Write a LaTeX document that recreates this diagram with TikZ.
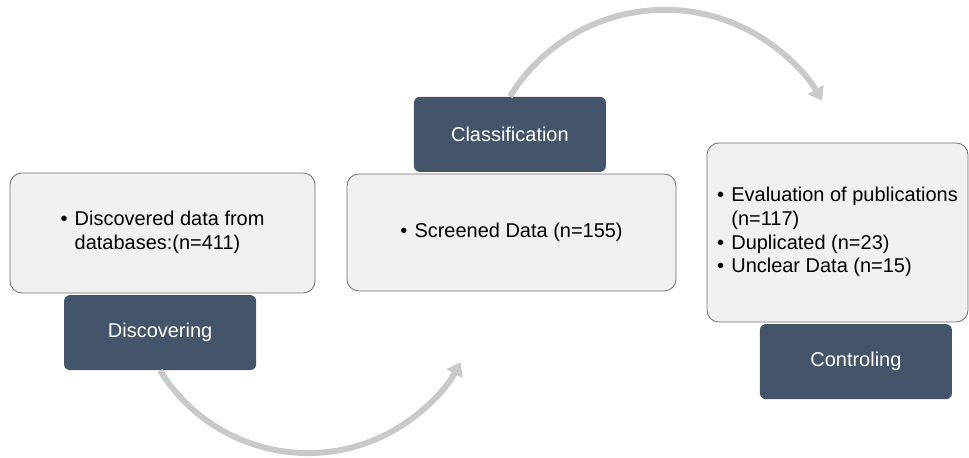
\documentclass[tikz,border=0pt]{standalone}
\usepackage{fontspec}
\setmainfont{Liberation Sans}
\usetikzlibrary{positioning,arrows.meta}
\definecolor{phaseblue}{HTML}{44546A}
\definecolor{boxgrey}{HTML}{EFF0F2}
\definecolor{arcgrey}{HTML}{C8C9CA}
\tikzset{data node/.style={rectangle,draw=black!55,fill=boxgrey,rounded corners=0.3cm,line width=0.6pt,font=\fontsize{14.2}{16.8}\selectfont},
phase node/.style={rectangle,fill=phaseblue,text=white,rounded corners=0.15cm,minimum width=4.8cm,minimum height=1.875cm,font=\fontsize{14.2}{16.8}\selectfont},
flow/.style={draw=arcgrey,line width=4.2pt,-{Triangle[length=0.32cm,width=0.44cm]}}
}

\begin{document}
\begin{tikzpicture}[x=0.025cm,y=0.025cm]
		\useasboundingbox (0,0) rectangle (969,458);
		\node[data node,minimum width=7.625cm,minimum height=3cm] (disc) at (162.5,225)
			{\begin{tabular}{@{}l@{\hspace{0.18cm}}l@{}}\textbullet & Discovered data from\\ & databases:(n=411)\end{tabular}};
		\node[data node,minimum width=8.225cm,minimum height=2.925cm] (screen) at (511.5,225.5)
			{\begin{tabular}{@{}l@{\hspace{0.18cm}}l@{}}\textbullet & Screened Data (n=155)\end{tabular}};
		\node[data node,minimum width=6.525cm,minimum height=4.475cm] (eval) at (837.5,225.5)
			{\begin{tabular}{@{}l@{\hspace{0.18cm}}l@{}}\textbullet & Evaluation of publications\\ & (n=117)\\ \textbullet & Duplicated (n=23)\\ \textbullet & Unclear Data (n=15)\end{tabular}};
		\node[phase node] (discover)[below = 1pt of disc, xshift=-0.06cm]{Discovering};
		\node[phase node] (class)[above = 1pt of screen, xshift=-0.04cm]{Classification};
		\node[phase node] (control)[below = 1pt of eval, xshift=0.46cm]{Controling};
		
		
		\draw[flow] (discover.south) arc[start angle=211.6, end angle=331.5, radius=4.34cm];
		\draw[flow] (class.north) arc[start angle=148.5, end angle=30, radius=4.54cm];
	\end{tikzpicture}
\end{document}
